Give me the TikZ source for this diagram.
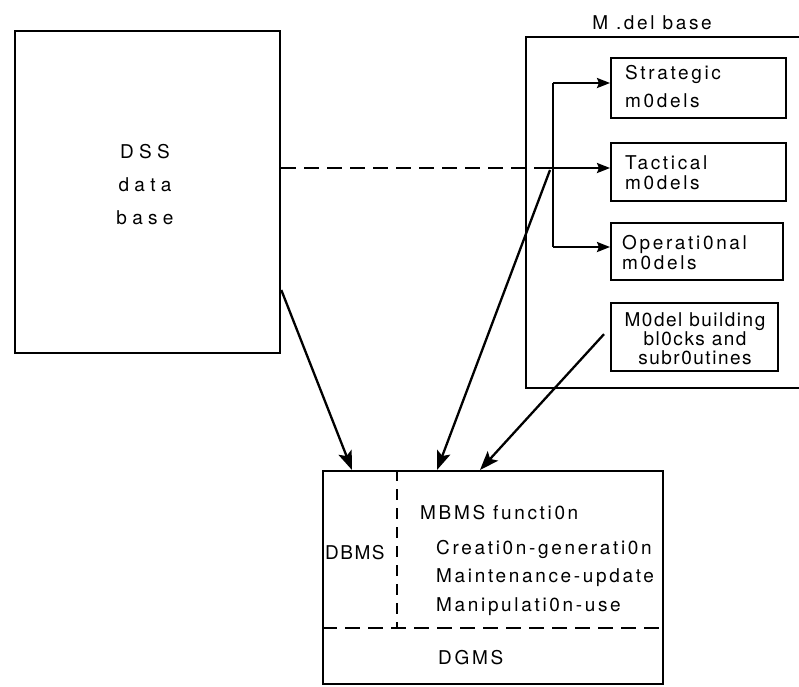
\documentclass[tikz,border=0pt]{standalone}
\usepackage{fontspec}
\setmainfont{TeX Gyre Heros}[LetterSpace=14]
\usetikzlibrary{arrows.meta,calc}

\tikzset{
  line/.style={line width=2.3pt},
  box/.style={draw, line width=2.3pt, rectangle, inner sep=0pt, anchor=north west},
  lbl/.style={font=\fontsize{19}{20}\selectfont, inner sep=0pt},
  tip/.style={-{Stealth[length=19pt,width=14pt,inset=4pt]}},
  smalltip/.style={-{Stealth[length=13pt,width=10pt,inset=2pt]}},
  dashline/.style={dash pattern=on 15pt off 8pt},
  vdashline/.style={dash pattern=on 11pt off 8pt},
}

\begin{document}
\begin{tikzpicture}[x=1pt,y=-1pt]
  \useasboundingbox (0,0) rectangle (799,686);
  \clip (0,0) rectangle (799,686);

  % data base
  \node[box, minimum width=265pt, minimum height=322pt] (dss) at (14,30) {};
  \node[lbl, align=center, font=\fontsize{19}{33}\selectfont\addfontfeature{LetterSpace=28}] (dsstxt) at (145,185) {DSS\\data\\base};

  % model base with its four model groups
  \node[box, minimum width=300pt, minimum height=351pt] (mbase) at (525,36) {};
  \node[lbl] (mbaselbl) at (652,23) {M .del base};

  \node[box, minimum width=175pt, minimum height=60pt] (strat) at (610,57) {};
  \node[box, minimum width=175pt, minimum height=58pt] (tact) at (610,142) {};
  \node[box, minimum width=172pt, minimum height=57pt] (oper) at (610,222) {};
  \node[box, minimum width=167pt, minimum height=68pt] (build) at (610,302) {};

  \node[lbl, align=left, anchor=west, font=\fontsize{19}{28}\selectfont] (strattxt) at (625,87) {Strategic\\m0dels};
  \node[lbl, align=left, anchor=west] (tacttxt) at (625,173) {Tactical\\m0dels};
  \node[lbl, align=left, anchor=west] (opertxt) at (622,253) {Operati0nal\\m0dels};
  \node[lbl, align=center, font=\fontsize{19}{19}\selectfont\addfontfeature{LetterSpace=8}] (buildtxt) at (695,339) {M0del building\\bl0cks and\\subr0utines};

  % distribution bus inside the model base
  \coordinate (b1) at (553,83);
  \coordinate (b3) at (553,247);
  \coordinate (j) at (540,168);
  \draw[line] (b1) -- (b3);
  \draw[line, smalltip] (b1) -- (b1 -| strat.west);
  \draw[line, smalltip] (b3) -- (b3 -| oper.west);
  \draw[line, dashline] ($(dss.north east)+(0,138)$) -- (j);
  \draw[line, smalltip] (j) -- (j -| tact.west);

  % management system
  \node[box, minimum width=340pt, minimum height=213pt] (dbms) at (322,470) {};
  \coordinate (vtop) at (397,470);
  \coordinate (vbot) at (397,628);
  \draw[line, vdashline] (vtop) -- (vbot);
  \draw[line, dashline] (dbms.west |- vbot) -- (dbms.east |- vbot);

  \node[lbl, anchor=west, font=\fontsize{19}{20}\selectfont\addfontfeature{LetterSpace=8}] (dbmstxt) at (325,553) {DBMS};
  \node[lbl, anchor=west] (mbmstxt) at (420,513) {MBMS functi0n};
  \node[lbl, anchor=west] (f1) at (436,549) {Creati0n-generati0n};
  \node[lbl, anchor=west] (f2) at (436,578) {Maintenance-update};
  \node[lbl, anchor=west] (f3) at (436,607) {Manipulati0n-use};
  \node[lbl, anchor=west] (dgmstxt) at (438,658) {DGMS};

  % flows into the management system
  \draw[line, tip] ($(dss.north east)+(0,260)$) -- ($(dbms.north west)+(30,0)$);
  \draw[line, tip] (j) ++(10,2) -- ($(dbms.north west)+(115,0)$);
  \draw[line, tip] ($(build.west)+(-6,-3)$) -- ($(dbms.north west)+(158,0)$);
\end{tikzpicture}
\end{document}
